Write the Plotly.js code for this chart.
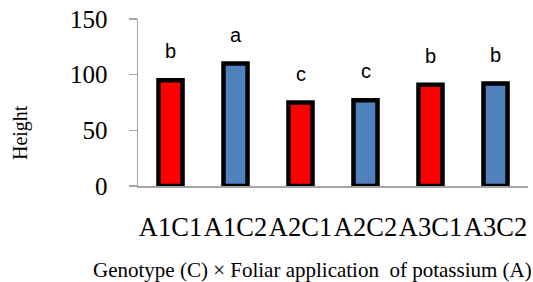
<!DOCTYPE html>
<html><head><meta charset="utf-8">
<script src="https://cdn.plot.ly/plotly-3.0.1.min.js"></script>
<style>html,body{margin:0;padding:0;background:#fff}#chart{width:533px;height:282px}</style>
</head><body><div id="chart"></div>
<script>
const categories = ["A1C1","A1C2","A2C1","A2C2","A3C1","A3C2"];
const heights = [95, 110, 75, 77, 91, 92];
const letters = ["b","a","c","c","b","b"];
const barColors = ["#FF0000","#4F81BD","#FF0000","#4F81BD","#FF0000","#4F81BD"];
const yTicks = [0, 50, 100, 150];
const xTitle = "Genotype (C) × Foliar application  of potassium (A)";
const yTitle = "Height";

const trace = {
  type: "bar", x: categories, y: heights, width: 0.37,
  marker: {color: barColors, line: {color: "#000000", width: 4.5}},
  hoverinfo: "none"
};
const annotations = categories.map((c, i) => ({
  x: c, y: heights[i], xref: "x", yref: "y", text: letters[i], showarrow: false,
  yanchor: "middle", yshift: 29, font: {family: "Liberation Sans", size: 20, color: "#000"}
}));
annotations.push({
  text: xTitle, xref: "paper", yref: "paper", x: -0.121, y: -0.503, xanchor: "left", yanchor: "middle",
  showarrow: false, font: {family: "Liberation Serif", size: 21, color: "#000"}
});
annotations.push({
  text: yTitle, xref: "paper", yref: "paper", x: -0.3026, y: 0.323, xanchor: "center", yanchor: "middle",
  textangle: -90, showarrow: false, font: {family: "Liberation Serif", size: 20, color: "#000"}
});
const layout = {
  width: 533, height: 282, margin: {l: 138, r: 5, t: 19, b: 96},
  paper_bgcolor: "#fff", plot_bgcolor: "#fff", showlegend: false, bargap: 0.63,
  font: {family: "Liberation Serif", color: "#000"},
  xaxis: {type: "category", showline: true, linecolor: "#A6A6A6", linewidth: 1.5, ticks: "",
    tickangle: 0, tickfont: {size: 26.5, family: "Liberation Serif"}, ticklabelstandoff: 17,
    showgrid: false, zeroline: false, fixedrange: true},
  yaxis: {range: [0, 150], tickvals: yTicks, showline: true, linecolor: "#A6A6A6", linewidth: 1.5,
    ticks: "outside", ticklen: 8, tickcolor: "#A6A6A6", tickwidth: 1.5,
    tickfont: {size: 25, family: "Liberation Serif"}, ticklabelstandoff: 16,
    showgrid: false, zeroline: false, fixedrange: true},
  annotations: annotations
};
Plotly.newPlot("chart", [trace], layout, {staticPlot: true, displayModeBar: false});
</script></body></html>
